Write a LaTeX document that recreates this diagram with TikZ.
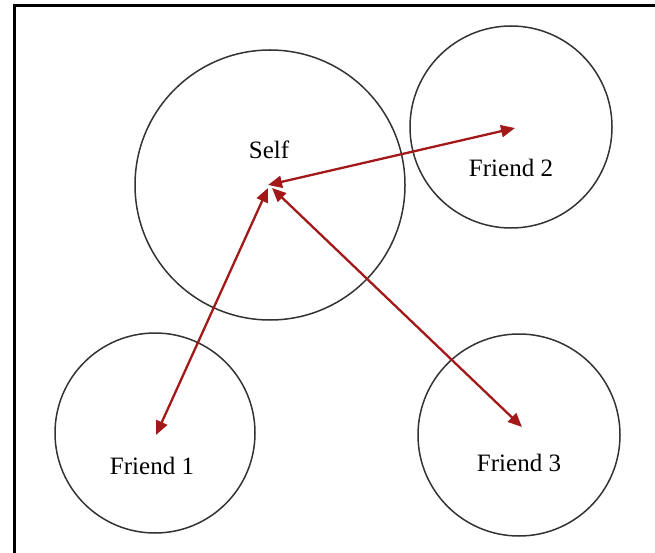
\documentclass[tikz,border=0pt]{standalone}
\usepackage{fontspec}
\setmainfont{Liberation Serif}
\usetikzlibrary{arrows.meta}
\definecolor{linkred}{HTML}{A31818}
\begin{document}
\begin{tikzpicture}[x=1pt,y=-1pt,
  ring/.style={draw=black!80,line width=1.5pt,circle,inner sep=0pt},
  lbl/.style={font=\fontsize{25}{29}\selectfont},
  link/.style={draw=linkred,line width=2.3pt,
    {Triangle[length=14pt,width=12pt]}-{Triangle[length=14pt,width=12pt]}}]
  \useasboundingbox (0,0) rectangle (655,553);
  % frame (top and left edges)
  \draw[line width=2.4pt] (14.5,553) -- (14.5,5.5) -- (655,5.5);
  % circles
  \node[ring,minimum size=270pt] (self) at (270,185) {};
  \node[ring,minimum size=202pt] (f2) at (511,127) {};
  \node[ring,minimum size=200pt] (f1) at (155,433) {};
  \node[ring,minimum size=202pt] (f3) at (519,435) {};
  % labels
  \node[lbl] (tself) at (269,150) {Self};
  \node[lbl] (tf2) at (511,168) {Friend 2};
  \node[lbl] (tf1) at (152,466) {Friend 1};
  \node[lbl] (tf3) at (519,463) {Friend 3};
  % arrow end points
  \coordinate (hubA) at (268,185);
  \coordinate (hubB) at (268,188);
  \coordinate (hubC) at (272,188);
  \coordinate (endA) at (515,128);
  \coordinate (endB) at (156,435);
  \coordinate (endC) at (522,427);
  % links
  \draw[link] (hubA) -- (endA);
  \draw[link] (hubB) -- (endB);
  \draw[link] (hubC) -- (endC);
\end{tikzpicture}
\end{document}
